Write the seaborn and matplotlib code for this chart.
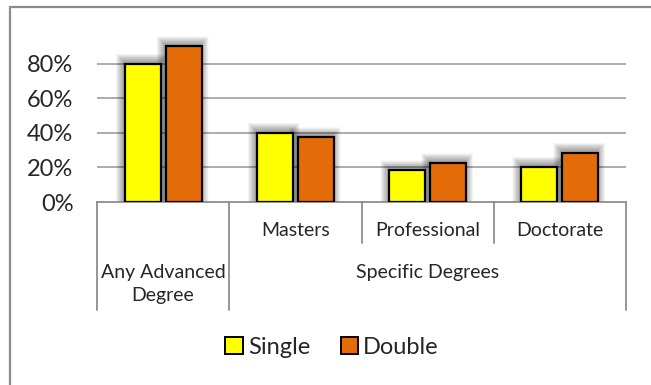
import numpy as np
import pandas as pd
import matplotlib
matplotlib.use("Agg")
import matplotlib.pyplot as plt
import matplotlib.patches as mpatches
from matplotlib.lines import Line2D
import seaborn as sns

# ---- data ----
categories = ["Any Advanced Degree", "Masters", "Professional", "Doctorate"]
cat_labels = ["Any Advanced\nDegree", "Masters", "Professional", "Doctorate"]
single = [0.80, 0.40, 0.185, 0.205]
double = [0.90, 0.375, 0.225, 0.285]
series = ["Single", "Double"]
colors = {"Single": "#FFFF00", "Double": "#E36C09"}
group_label = "Specific Degrees"
yticks = [0.0, 0.2, 0.4, 0.6, 0.8]

df = pd.DataFrame({
    "category": categories * 2,
    "series": ["Single"] * len(categories) + ["Double"] * len(categories),
    "value": single + double,
})

sns.set_style("white")
plt.rcParams["font.family"] = ["Lato", "DejaVu Sans"]

fig = plt.figure(figsize=(6.51, 3.85), dpi=100)
ax = fig.add_axes([0.149, 0.4753, 0.8126, 0.4494])

sns.barplot(data=df, x="category", y="value", hue="series", order=categories,
            hue_order=series, palette=colors, width=0.62, gap=0.12,
            edgecolor="black", linewidth=1.6, saturation=1, legend=False,
            ax=ax, zorder=3)

ax.set_xlim(-0.5, len(categories) - 0.5)
ax.set_ylim(0, 1.0)
ax.set_yticks(yticks)
ax.set_yticklabels([f"{int(round(t * 100))}%" for t in yticks], fontsize=17)
ax.tick_params(axis="y", length=0, pad=17)
ax.set_xticks([])
ax.set_xlabel("")
ax.set_ylabel("")
for t in yticks[1:]:
    ax.axhline(t, color="#A6A6A6", lw=1.3, zorder=1)
for s in ["top", "right", "left"]:
    ax.spines[s].set_visible(False)
ax.spines["bottom"].set_color("#8C8C8C")
ax.spines["bottom"].set_linewidth(1.3)

# soft shadow behind bars
fig.canvas.draw()
inv = ax.transData.inverted()
x0, y0 = inv.transform((0, 0))
x1, y1 = inv.transform((1, 1))
px_x, px_y = x1 - x0, y1 - y0
for p in list(ax.patches):
    bx, by = p.get_x(), p.get_y()
    bw, bh = p.get_width(), p.get_height()
    for r in np.arange(0.5, 8.5, 0.5):
        sh = mpatches.Rectangle((bx - (r + 1) * px_x, by),
                                bw + 2 * r * px_x, bh + (r + 2) * px_y,
                                facecolor="black", edgecolor="none",
                                alpha=0.022, zorder=2)
        ax.add_patch(sh)

# hierarchical category axis
trans = ax.get_xaxis_transform()
short_y = -0.237
long_y = -0.624
bounds = np.arange(len(categories) + 1) - 0.5
for i, b in enumerate(bounds):
    yb = long_y if i in (0, 1, len(bounds) - 1) else short_y
    ax.add_line(Line2D([b, b], [0, yb], transform=trans, color="#8C8C8C",
                       lw=1.3, clip_on=False))
for i, lab in enumerate(cat_labels):
    if i == 0:
        ax.text(i, -0.474, lab, transform=trans, ha="center", va="center",
                fontsize=14, linespacing=1.45)
    else:
        ax.text(i, -0.165, lab, transform=trans, ha="center", va="center",
                fontsize=14)
ax.text((1 + len(categories) - 1) / 2, -0.405, group_label, transform=trans,
        ha="center", va="center", fontsize=14)

# legend
handles = [mpatches.Patch(facecolor=colors[s], edgecolor="black", lw=1.4, label=s)
           for s in series]
fig.legend(handles=handles, loc="center", bbox_to_anchor=(0.51, 0.098),
           ncol=2, frameon=False, fontsize=17, handlelength=0.75,
           handleheight=0.75, handletextpad=0.2, columnspacing=1.3)

# chart border (cropped at right/bottom)
fig.add_artist(Line2D([9.5 / 651, 9.5 / 651], [0, 1 - 7 / 385],
                      transform=fig.transFigure, color="#8C8C8C", lw=1.6))
fig.add_artist(Line2D([9.5 / 651, 1], [1 - 7 / 385, 1 - 7 / 385],
                      transform=fig.transFigure, color="#8C8C8C", lw=1.6))

fig.savefig("out.png", dpi=100, facecolor="white")
